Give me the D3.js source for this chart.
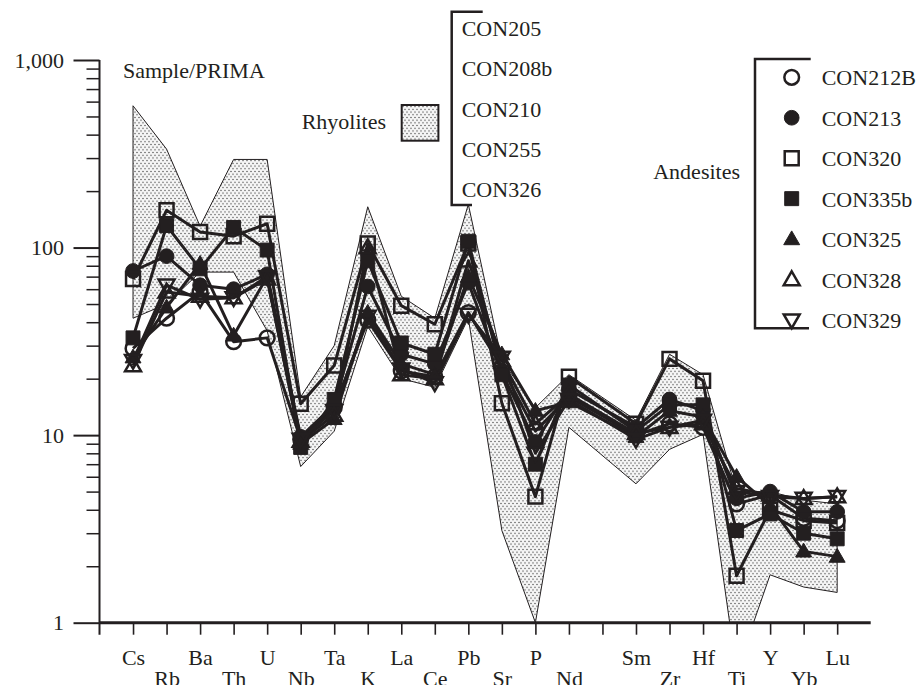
<!DOCTYPE html>
<html>
<head>
<meta charset="utf-8">
<script src="https://cdn.jsdelivr.net/npm/d3@7"></script>
<style>
  body { margin: 0; background: #fff; }
  svg text { font-family: "Liberation Serif", "Times New Roman", serif; font-size: 22px; fill: #231f20; }
</style>
</head>
<body>
<div id="chart"></div>
<script>
// x axis slots ("" = empty slot between Nd and Sm)
var tickLabels = ["Cs","Rb","Ba","Th","U","Nb","Ta","K","La","Ce","Pb","Sr","P","Nd","","Sm","Zr","Hf","Ti","Y","Yb","Lu"];
var elements   = ["Cs","Rb","Ba","Th","U","Nb","Ta","K","La","Ce","Pb","Sr","P","Nd","Sm","Zr","Hf","Ti","Y","Yb","Lu"];
var yTicks = [1, 10, 100, 1000];

// rhyolite field: upper / lower envelope
var rhyoliteUpper = [570,335,130,295,295,16,30,165,55,42,170,25,14,21,12,27,21,5,5,4.5,4.3];
var rhyoliteLower = [42,50,74,74,36,6.8,10.5,38,20,18,42,3.1,1.0,11,5.5,8.4,10.1,0.55,1.8,1.55,1.45];
var rhyoliteNames = ["CON205","CON208b","CON210","CON255","CON326"];

// andesites
var seriesNames = ["CON212B","CON213","CON320","CON335b","CON325","CON328","CON329"];
var con212B = [29,42,58,31.5,33,9.5,14,41,22,20.5,45,23,10.5,16,10,11.5,11,4.3,4.8,3.6,3.5];
var con213  = [75,90,63,60,72,9.8,14.5,62,27,24,65,21.5,9.2,17.5,11,15.5,13.5,4.6,5.0,3.9,3.9];
var con320  = [68,158,121,115,134,14.7,23.5,105,49,39,105,14.8,4.7,20.5,11.5,25.5,19.5,1.78,4.0,3.5,3.4];
var con335b = [33,131,77,128,97,8.6,15.5,85,31,27,108,21,7.0,18.5,10.5,14.5,14.5,3.1,3.8,3.0,2.8];
var con325  = [26,48,82,34,70,9.0,12.2,45,24,21,70,27,13.5,15,9.8,13.5,12.5,6.0,4.2,2.4,2.25];
var con328  = [23.5,58,55,54,68,9.3,12.8,100,21,20,85,25,11.5,16.5,10.2,11,11.5,5.2,4.8,4.6,4.7];
var con329  = [25,63,53,54,70,9.5,13.5,43,22.5,19,44,26,8.0,15.5,9.5,11,12,5.0,4.7,4.6,4.7];
var seriesValues = [con212B, con213, con320, con335b, con325, con328, con329];
// marker: shape + filled?
var markerShape = ["circle","circle","square","square","triangle","triangle","triangleDown"];
var markerFilled = [false,true,false,true,true,false,false];

var ink = "#231f20";
var width = 924, height = 685;
var margin = {left: 99.5, right: 53.3, bottom: 62.3, top: 60};

var svg = d3.select("#chart").append("svg")
    .attr("width", width).attr("height", height);

// stipple pattern for the rhyolite field
var defs = svg.append("defs");
var pat = defs.append("pattern").attr("id", "stipple")
    .attr("patternUnits", "userSpaceOnUse").attr("width", 4).attr("height", 5.4);
pat.append("rect").attr("width", 4).attr("height", 5.4).attr("fill", "#f6f6f6");
pat.append("circle").attr("cx", 1).attr("cy", 1.35).attr("r", 0.7).attr("fill", "#333");
pat.append("circle").attr("cx", 3).attr("cy", 4.05).attr("r", 0.7).attr("fill", "#333");

var xScale = d3.scalePoint().domain(tickLabels)
    .range([margin.left, width - margin.right]).padding(1);
var yScale = d3.scaleLog().domain([1, 1000])
    .range([height - margin.bottom, margin.top]);

defs.append("clipPath").attr("id", "plotclip").append("rect")
    .attr("x", margin.left).attr("y", 0)
    .attr("width", width - margin.right - margin.left)
    .attr("height", yScale(1));

// rhyolite field polygon
var fieldPts = elements.map((e, i) => [xScale(e), yScale(rhyoliteUpper[i])])
    .concat(elements.map((e, i) => [xScale(e), yScale(rhyoliteLower[i])]).reverse());
svg.append("path")
    .attr("clip-path", "url(#plotclip)")
    .attr("d", d3.line()(fieldPts) + "Z")
    .attr("fill", "url(#stipple)")
    .attr("stroke", ink).attr("stroke-width", 1);

// axes
var xAxis = d3.axisBottom(xScale).tickSize(12).tickPadding(0);
var gx = svg.append("g").attr("transform", `translate(0, ${yScale(1)})`).call(xAxis);
gx.select(".domain").remove();
gx.selectAll(".tick line").attr("stroke", ink).attr("stroke-width", 1.6);
// labels alternate between two rows, counted over the labelled elements
gx.selectAll(".tick text")
    .attr("dy", null)
    .attr("y", d => elements.indexOf(d) % 2 === 0 ? 42.5 : 63);

var yAxis = d3.axisLeft(yScale).tickValues(yTicks).tickSize(26).tickPadding(9.5)
    .tickFormat(d3.format(","));
var gy = svg.append("g").attr("transform", `translate(${margin.left}, 0)`).call(yAxis);
gy.select(".domain").remove();
gy.selectAll(".tick line").attr("stroke", ink).attr("stroke-width", 2);
gy.selectAll(".tick text").attr("dy", "0.33em");

var minor = [];
yTicks.slice(0, -1).forEach(function(t) {
    for (var k = 2; k <= 9; k++) minor.push(t * k);
});
var gyMinor = svg.append("g").attr("transform", `translate(${margin.left}, 0)`)
    .call(d3.axisLeft(yScale).tickValues(minor).tickSize(13).tickFormat(""));
gyMinor.select(".domain").remove();
gyMinor.selectAll(".tick line").attr("stroke", ink).attr("stroke-width", 1.5);

// axis lines
svg.append("line")
    .attr("x1", margin.left).attr("x2", margin.left)
    .attr("y1", yScale(1000)).attr("y2", yScale(1) + 12)
    .attr("stroke", ink).attr("stroke-width", 2);
svg.append("line")
    .attr("x1", margin.left).attr("x2", width - margin.right)
    .attr("y1", yScale(1)).attr("y2", yScale(1))
    .attr("stroke", ink).attr("stroke-width", 3);

// series lines
var line = d3.line().x((d, i) => xScale(elements[i])).y(d => yScale(d));
var gLines = svg.append("g");
seriesValues.forEach(function(vals) {
    gLines.append("path").attr("d", line(vals))
        .attr("fill", "none").attr("stroke", ink)
        .attr("stroke-width", 3).attr("stroke-linejoin", "round");
});

function symbolFor(shape) {
    if (shape === "circle") return d3.symbol(d3.symbolCircle, 170)();
    if (shape === "square") return d3.symbol(d3.symbolSquare, 195)();
    return d3.symbol(d3.symbolTriangle, 110)();
}

function drawMarker(g, shape, filled, cx, cy) {
    var rot = shape === "triangleDown" ? " rotate(180)" : "";
    var dy = shape === "triangle" ? 1 : (shape === "triangleDown" ? -1 : 0);
    g.append("path")
        .attr("d", symbolFor(shape))
        .attr("transform", `translate(${cx}, ${cy + dy})` + rot)
        .attr("fill", filled ? ink : "none")
        .attr("stroke", ink)
        .attr("stroke-width", filled ? 1 : 2.5);
}

// markers
var gMarks = svg.append("g");
seriesValues.forEach(function(vals, s) {
    vals.forEach(function(v, i) {
        drawMarker(gMarks, markerShape[s], markerFilled[s], xScale(elements[i]), yScale(v));
    });
});

// title
svg.append("text").attr("x", 123).attr("y", 77.5).text("Sample/PRIMA");

// rhyolite legend
svg.append("text").attr("x", 301.7).attr("y", 129).text("Rhyolites");
svg.append("rect").attr("x", 401.7).attr("y", 105).attr("width", 36.7).attr("height", 35.7)
    .attr("fill", "url(#stipple)").attr("stroke", ink).attr("stroke-width", 2);
svg.append("path").attr("d", "M482.7,11.7H451.7V205H472")
    .attr("fill", "none").attr("stroke", ink).attr("stroke-width", 2.5);
svg.selectAll(".rhyname").data(rhyoliteNames).enter().append("text")
    .attr("class", "rhyname")
    .attr("x", 461.7).attr("y", (d, i) => 36 + i * 40.3)
    .text(d => d);

// andesite legend
svg.append("text").attr("x", 740).attr("y", 179).attr("text-anchor", "end").text("Andesites");
svg.append("path").attr("d", "M810.7,59H755V328.3H809")
    .attr("fill", "none").attr("stroke", ink).attr("stroke-width", 2.5);
var gLeg = svg.append("g");
seriesNames.forEach(function(name, s) {
    var ly = 77.3 + s * 40.45;
    drawMarker(gLeg, markerShape[s], markerFilled[s], 791.7, ly);
    gLeg.append("text").attr("x", 821.7).attr("y", ly + 8).text(name);
});
</script>
</body>
</html>
